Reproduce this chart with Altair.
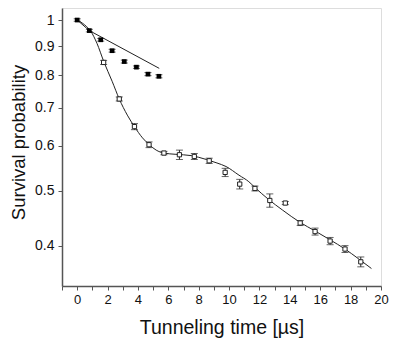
import altair as alt
import pandas as pd

# Filled symbols (data + fit)
t_filled = [0.0, 0.8, 1.55, 2.3, 3.1, 3.9, 4.66, 5.38]
p_filled = [1.0, 0.958, 0.923, 0.883, 0.845, 0.826, 0.803, 0.796]
e_filled = [0.005, 0.005, 0.005, 0.005, 0.005, 0.004, 0.005, 0.005]
t_fit_filled = [0.0, 0.8, 5.4]
p_fit_filled = [1.0, 0.958, 0.822]

# Open symbols (data + fit)
t_open = [1.74, 2.77, 3.77, 4.73, 5.71, 6.73, 7.71, 8.69, 9.74, 10.7, 11.7,
          12.68, 13.7, 14.68, 15.66, 16.65, 17.63, 18.67]
p_open = [0.842, 0.726, 0.649, 0.603, 0.583, 0.579, 0.575, 0.565, 0.539, 0.514,
          0.505, 0.481, 0.476, 0.439, 0.424, 0.408, 0.395, 0.375]
e_open = [0.007, 0.006, 0.008, 0.007, 0.004, 0.011, 0.007, 0.006, 0.009, 0.010,
          0.005, 0.013, 0.003, 0.0045, 0.006, 0.006, 0.0055, 0.0075]
t_fit_open = [0.0, 0.5, 0.9, 1.3, 1.75, 2.3, 2.77, 3.3, 3.77, 4.3, 4.75, 5.2,
              5.7, 6.5, 7.5, 8.5, 9.2, 9.8, 10.65, 11.3, 11.7, 12.6, 13.5,
              14.68, 15.66, 16.65, 17.63, 18.5, 19.37]
p_fit_open = [1.0, 0.98, 0.955, 0.91, 0.845, 0.78, 0.726, 0.68, 0.649, 0.62,
              0.603, 0.59, 0.583, 0.58, 0.577, 0.568, 0.56, 0.552, 0.533, 0.519,
              0.507, 0.483, 0.463, 0.440, 0.425, 0.410, 0.395, 0.38, 0.365]

x_ticks = list(range(-1, 21))
y_ticks = [0.4, 0.5, 0.6, 0.7, 0.8, 0.9, 1.0]

df_f = pd.DataFrame({"t": t_filled, "p": p_filled, "e": e_filled})
df_f["lo"] = df_f["p"] - df_f["e"]
df_f["hi"] = df_f["p"] + df_f["e"]
df_o = pd.DataFrame({"t": t_open, "p": p_open, "e": e_open})
df_o["lo"] = df_o["p"] - df_o["e"]
df_o["hi"] = df_o["p"] + df_o["e"]
df_ff = pd.DataFrame({"t": t_fit_filled, "p": p_fit_filled})
df_fo = pd.DataFrame({"t": t_fit_open, "p": p_fit_open})

FONT = "Liberation Sans"
INK = "#222222"

xs = alt.Scale(domain=[-1, 20], nice=False, zero=False)
ys = alt.Scale(type="log", domain=[0.34, 1.05], nice=False)

xaxis = alt.Axis(
    values=x_ticks,
    labelExpr="datum.value >= 0 && datum.value % 2 == 0 ? datum.label : ''",
    tickSize=4, labelFontSize=13, titleFontSize=19.5, titleFontWeight="normal",
    labelPadding=3, grid=False, labelFont=FONT, titleFont=FONT,
    titleBaseline="alphabetic", titleY=47,
    domainColor="#555", domainWidth=1.5, tickColor="#555", labelColor="#111",
    titleColor="#111", labelFlush=False,
)
yaxis = alt.Axis(
    values=y_ticks, format="~g",
    tickSize=4, labelFontSize=14, titleFontSize=18.5, titleFontWeight="normal",
    labelPadding=4, grid=False, labelFont=FONT, titleFont=FONT,
    titleX=-34, titleY=134,
    domainColor="#555", domainWidth=1.5, tickColor="#555", labelColor="#111",
    titleColor="#111",
)

X = alt.X("t:Q", scale=xs, axis=xaxis, title="Tunneling time [µs]")
Y = alt.Y("p:Q", scale=ys, axis=yaxis, title="Survival probability")


def err_layers(df):
    ylo = alt.Y("lo:Q", scale=ys, axis=yaxis, title="Survival probability")
    yhi = alt.Y("hi:Q", scale=ys, axis=yaxis, title="Survival probability")
    rule = alt.Chart(df).mark_rule(color=INK, strokeWidth=1).encode(x=X, y=ylo, y2="hi:Q")
    cap_lo = alt.Chart(df).mark_tick(color=INK, orient="horizontal", size=7, thickness=1).encode(x=X, y=ylo)
    cap_hi = alt.Chart(df).mark_tick(color=INK, orient="horizontal", size=7, thickness=1).encode(x=X, y=yhi)
    return [rule, cap_lo, cap_hi]


fit_f = alt.Chart(df_ff).mark_line(color=INK, strokeWidth=1).encode(x=X, y=Y)
fit_o = alt.Chart(df_fo).mark_line(color=INK, strokeWidth=1, interpolate="monotone").encode(x=X, y=Y)

pts_o = alt.Chart(df_o).mark_point(shape="square", fill="white", fillOpacity=1,
                                   stroke=INK, strokeWidth=1, size=18, opacity=1).encode(x=X, y=Y)
pts_f = alt.Chart(df_f).mark_point(shape="square", filled=True, color="#000",
                                   size=22, opacity=1).encode(x=X, y=Y)

chart = alt.layer(
    fit_o, fit_f, *err_layers(df_o), pts_o, *err_layers(df_f), pts_f
).properties(
    width=319, height=278,
    autosize=alt.AutoSizeParams(type="none"),
    padding={"left": 54, "top": 0, "right": 10, "bottom": 55},
).configure_view(stroke="#555", strokeWidth=1.5).configure(background="white")

chart.save("out.html", embed_options={"renderer": "svg", "actions": False})
